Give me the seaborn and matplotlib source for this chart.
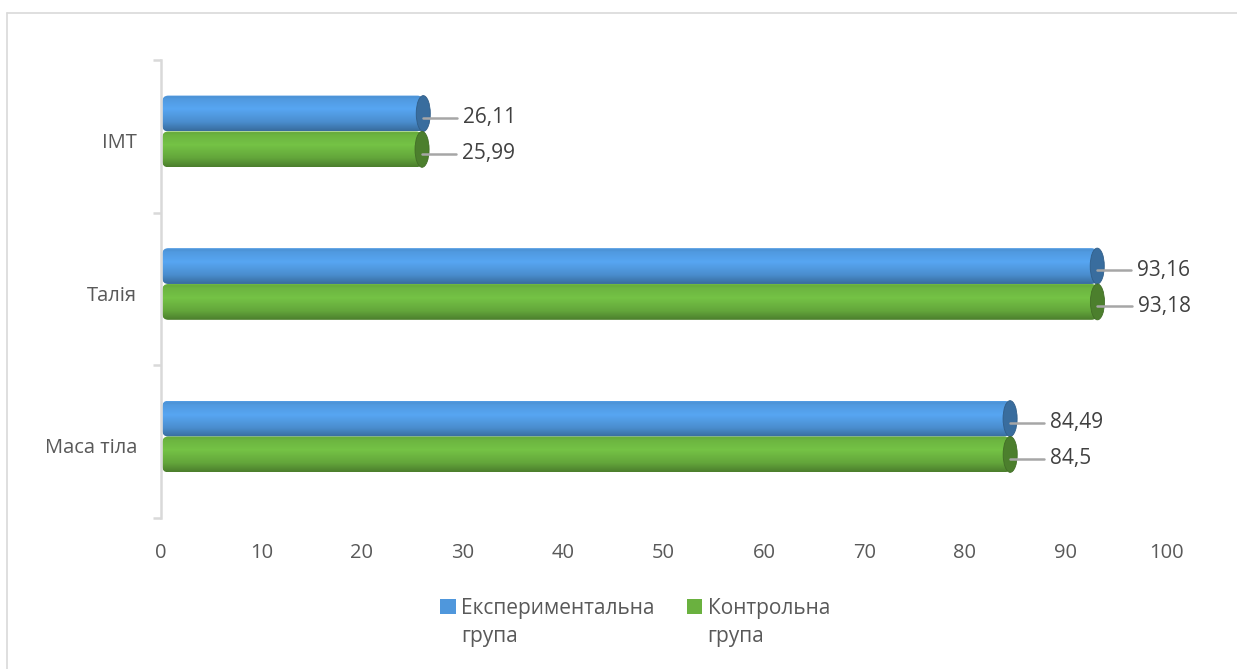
import numpy as np
import pandas as pd
import matplotlib
matplotlib.use("Agg")
import matplotlib.pyplot as plt
import matplotlib.colors as mcolors
import matplotlib.transforms as mtransforms
from matplotlib.patches import Ellipse, FancyBboxPatch, Rectangle
from matplotlib.legend_handler import HandlerPatch
from matplotlib.lines import Line2D
import seaborn as sns

# Body measurements by group
categories = ["ІМТ", "Талія", "Маса тіла"]
groups = ["Експериментальна\nгрупа", "Контрольна\nгрупа"]
experimental = [26.11, 93.16, 84.49]
control = [25.99, 93.18, 84.5]
x_ticks = [0, 10, 20, 30, 40, 50, 60, 70, 80, 90, 100]

df = pd.DataFrame({
    "category": categories * 2,
    "group": [groups[0]] * 3 + [groups[1]] * 3,
    "value": experimental + control,
})

sns.set_theme(style="white")
plt.rcParams["font.family"] = ["Open Sans", "DejaVu Sans"]

text_color = "#595959"
base_colors = ["#4F97DC", "#6AB13F"]

fig = plt.figure(figsize=(12.37, 6.69), dpi=100)
ax = fig.add_axes([0.130, 0.226, 0.8126, 0.684])

sns.barplot(data=df, y="category", x="value", hue="group", order=categories,
            hue_order=groups, palette=base_colors, orient="h", width=0.47,
            saturation=1, legend=False, ax=ax, linewidth=0)

ax.set_xlim(0, 100)
ax.set_ylim(2.5, -0.5)
ax.set_xticks(x_ticks)
ax.set_xticklabels([str(t) for t in x_ticks])
ax.set_xlabel("")
ax.set_ylabel("")

# Cylinder shading: vertical gradient clipped to a rounded bar, plus an end cap
def shade(color):
    c = np.array(mcolors.to_rgb(color))
    dark = c * 0.55
    light = np.clip(c * 1.1, 0, 1)
    t = np.linspace(0, 1, 64)
    prof = np.interp(t, [0, 0.04, 0.1, 0.38, 0.75, 1.0],
                     [0.9, 0.75, 0.85, 1.0, 0.7, 0.3])
    rows = np.array([dark + (light - dark) * p for p in prof])
    return rows[:, None, :]

lift = 0.033  # perspective lift of the bars above the category centre
bars = [p for p in ax.patches if p.get_width() > 0]
for patch in bars:
    patch.set_y(patch.get_y() - lift)
    patch.set_visible(False)
    x0, y0 = patch.get_x(), patch.get_y()
    w, h = patch.get_width(), patch.get_height()
    col = patch.get_facecolor()
    body = FancyBboxPatch((x0 + 0.15, y0), w - 0.15, h,
                          boxstyle="round,pad=0,rounding_size=0.6",
                          mutation_aspect=0.066, facecolor="none",
                          edgecolor="none")
    ax.add_patch(body)
    img = ax.imshow(shade(col), extent=[x0, x0 + w, y0 + h, y0], aspect="auto",
                    interpolation="bilinear", zorder=2)
    img.set_clip_path(body)
    c = np.array(mcolors.to_rgb(col))
    cap = Ellipse((x0 + w, y0 + h / 2), width=1.4, height=h,
                  facecolor=c * 0.72, edgecolor=c * 0.62, linewidth=0.6, zorder=3)
    ax.add_patch(cap)

ax.set_xlim(0, 100)
ax.set_ylim(2.5, -0.5)

# Value labels with leader lines
for patch in bars:
    x0, y0 = patch.get_x(), patch.get_y()
    w, h = patch.get_width(), patch.get_height()
    yc = y0 + h / 2 + 0.028
    ax.add_line(Line2D([x0 + w, x0 + w + 3.4], [yc, yc], color="#a6a6a6",
                       linewidth=1.8, zorder=4))
    label = f"{w:g}".replace(".", ",")
    ax.text(x0 + w + 4.0, yc, label, va="center", ha="left",
            fontsize=15, color="#404040", zorder=5)

# Axes styling
for s in ["top", "right", "bottom"]:
    ax.spines[s].set_visible(False)
ax.spines["left"].set_color("#d9d9d9")
ax.spines["left"].set_linewidth(1.8)
ax.tick_params(axis="x", length=0, pad=18, labelsize=14.5, labelcolor=text_color)
ax.tick_params(axis="y", which="major", length=0, pad=17, labelsize=14.5,
               labelcolor=text_color)
ax.set_yticks([-0.5, 0.5, 1.5, 2.5], minor=True)
ax.tick_params(axis="y", which="minor", left=True, length=6, width=1.8,
               color="#d9d9d9", direction="out")
ax.grid(False)
shift = mtransforms.ScaledTranslation(0, -4 / 100, fig.dpi_scale_trans)
for lbl in ax.get_yticklabels():
    lbl.set_transform(lbl.get_transform() + shift)


# Legend: small square aligned with the first text line
class TopSquareHandler(HandlerPatch):
    def create_artists(self, legend, orig_handle, xdescent, ydescent, width,
                       height, fontsize, trans):
        side = 0.75 * fontsize
        sq = Rectangle((-xdescent + width - side, -ydescent + height - side * 0.45),
                       side, side, facecolor=orig_handle.get_facecolor(),
                       edgecolor="none", transform=trans)
        return [sq]


handles = [Rectangle((0, 0), 1, 1, facecolor=c) for c in base_colors]
leg = fig.legend(handles, groups, loc="center", bbox_to_anchor=(0.513, 0.07),
                 ncol=2, frameon=False, fontsize=15, labelcolor=text_color,
                 handlelength=0.8, handleheight=2.0, handletextpad=0.25,
                 columnspacing=1.5,
                 handler_map={Rectangle: TopSquareHandler()})
for t in leg.get_texts():
    t.set_linespacing(1.45)

# Outer chart frame (top and left edges)
fig.add_artist(Line2D([7 / 1237, 1], [1 - 13 / 669, 1 - 13 / 669],
                      transform=fig.transFigure, color="#d9d9d9", linewidth=1.2))
fig.add_artist(Line2D([7 / 1237, 7 / 1237], [0, 1 - 13 / 669],
                      transform=fig.transFigure, color="#d9d9d9", linewidth=1.2))

fig.savefig("out.png", dpi=100, facecolor="white")
